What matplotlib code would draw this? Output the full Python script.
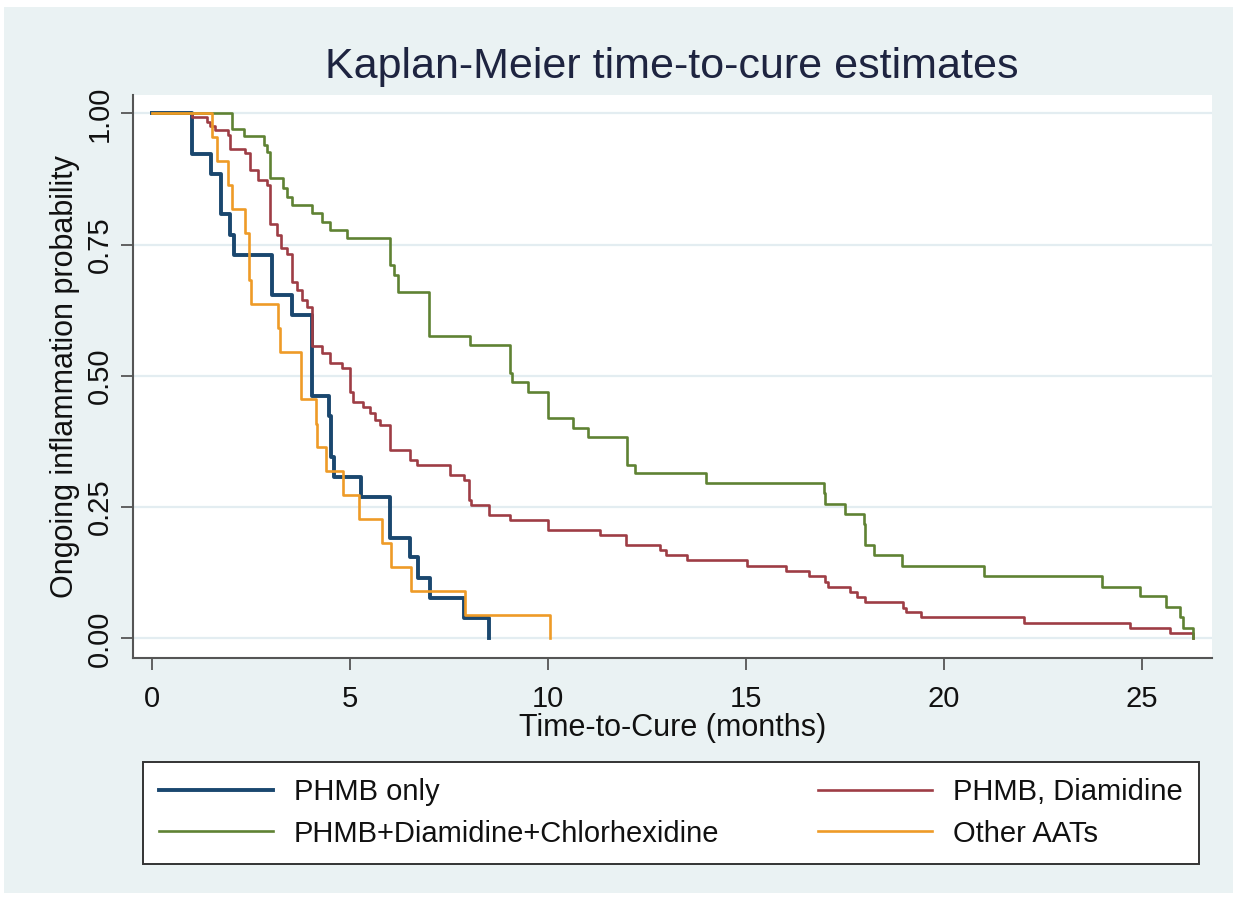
import matplotlib
matplotlib.use("Agg")
import matplotlib.pyplot as plt
from matplotlib.patches import Rectangle

plt.rcParams['font.family'] = ['Liberation Sans', 'DejaVu Sans']

# ---- data (step times in months, survival after each step) ----
phmb_only_t = [1.0, 1.5, 1.73, 1.98, 2.08, 3.03, 3.53, 4.03, 4.47, 4.53, 4.6,
               5.28, 6.0, 6.52, 6.73, 7.03, 7.87, 8.52]
phmb_only_s = [0.923, 0.885, 0.808, 0.769, 0.731, 0.654, 0.615, 0.462, 0.423,
               0.346, 0.308, 0.269, 0.192, 0.154, 0.115, 0.077, 0.038, 0.0]

phmb_dia_t = [1.0, 1.38, 1.47, 1.59, 1.93, 1.97, 2.35, 2.47, 2.68, 2.90, 2.98,
              3.15, 3.27, 3.40, 3.53, 3.66, 3.78, 3.91, 4.03, 4.29, 4.50, 4.80,
              5.0, 5.08, 5.34, 5.51, 5.63, 5.76, 6.02, 6.51, 6.70, 7.52, 7.87,
              8.0, 8.05, 8.52, 9.04, 10.0, 11.31, 11.98, 12.82, 12.99, 13.5,
              15.02, 16.0, 16.58, 17.0, 17.08, 17.63, 17.8, 18.0, 18.97, 19.05,
              19.43, 22.01, 24.7, 25.7, 26.3]
phmb_dia_s = [0.994, 0.984, 0.975, 0.968, 0.958, 0.933, 0.924, 0.892, 0.873,
              0.863, 0.790, 0.768, 0.743, 0.733, 0.679, 0.663, 0.644, 0.632,
              0.556, 0.543, 0.524, 0.514, 0.470, 0.451, 0.441, 0.430, 0.416,
              0.406, 0.359, 0.340, 0.331, 0.311, 0.302, 0.263, 0.254, 0.235,
              0.225, 0.206, 0.197, 0.178, 0.168, 0.159, 0.149, 0.138, 0.128,
              0.119, 0.108, 0.098, 0.089, 0.079, 0.070, 0.057, 0.051, 0.041,
              0.030, 0.019, 0.0095, 0.0]

triple_t = [2.02, 2.32, 2.82, 2.9, 2.98, 3.32, 3.4, 3.53, 4.03, 4.29, 4.5, 4.92,
            6.0, 6.1, 6.22, 7.0, 8.02, 9.03, 9.1, 9.5, 10.0, 10.64, 11.02, 12.0,
            12.2, 14.0, 16.97, 17.0, 17.5, 17.97, 18.0, 18.24, 18.93, 21.0, 24.0,
            24.95, 25.6, 25.97, 26.05, 26.3]
triple_s = [0.971, 0.956, 0.940, 0.927, 0.876, 0.857, 0.841, 0.825, 0.810,
            0.794, 0.778, 0.762, 0.711, 0.692, 0.660, 0.575, 0.559, 0.505,
            0.489, 0.470, 0.419, 0.400, 0.384, 0.331, 0.314, 0.295, 0.276,
            0.255, 0.236, 0.217, 0.178, 0.159, 0.138, 0.119, 0.098, 0.081,
            0.060, 0.041, 0.020, 0.0]

other_t = [1.51, 1.63, 1.91, 2.02, 2.36, 2.46, 2.5, 3.17, 3.22, 3.76, 4.14,
           4.17, 4.40, 4.82, 5.24, 5.81, 6.03, 6.55, 7.91, 10.05]
other_s = [0.955, 0.909, 0.864, 0.818, 0.773, 0.682, 0.636, 0.591, 0.545,
           0.455, 0.409, 0.364, 0.318, 0.273, 0.227, 0.182, 0.136, 0.091,
           0.045, 0.0]

labels = ["PHMB only", "PHMB, Diamidine", "PHMB+Diamidine+Chlorhexidine", "Other AATs"]
colors = ["#1A476F", "#9E3D45", "#5F8233", "#EE9B27"]
widths = [2.8, 1.9, 1.9, 1.9]
x_ticks = [0, 5, 10, 15, 20, 25]
y_ticks = [0.0, 0.25, 0.5, 0.75, 1.0]

W, H = 1237, 899
fig = plt.figure(figsize=(W / 100, H / 100), dpi=100, facecolor="white")
fig.patches.append(Rectangle((4 / W, 6 / H), (W - 8) / W, (H - 13) / H,
                             transform=fig.transFigure, facecolor="#EAF2F3",
                             edgecolor="none", zorder=-10))

ax = fig.add_axes([133 / W, 1 - 658 / H, (1212 - 133) / W, (658 - 95) / H])
ax.set_facecolor("white")

series = [(phmb_only_t, phmb_only_s), (phmb_dia_t, phmb_dia_s),
          (triple_t, triple_s), (other_t, other_s)]
lines = []
for (t, s), lab, c, lw in zip(series, labels, colors, widths):
    ln, = ax.step([0.0] + t, [1.0] + s, where="post", color=c, lw=lw, label=lab,
                  zorder=3)
    lines.append(ln)

ax.set_xlim(-0.48, 26.77)
ax.set_ylim(-0.0375, 1.035)
ax.set_xticks(x_ticks)
ax.set_yticks(y_ticks)
ax.set_yticklabels([f"{v:.2f}" for v in y_ticks])
ax.yaxis.grid(True, color="#E3EDF1", lw=1.6, zorder=0)
ax.set_axisbelow(True)

for side in ["top", "right"]:
    ax.spines[side].set_visible(False)
for side in ["left", "bottom"]:
    ax.spines[side].set_color("#555555")
    ax.spines[side].set_linewidth(1.5)

ax.tick_params(axis="both", direction="out", length=8.5, width=1.3,
               color="#555555", labelsize=21, labelcolor="#111111")
ax.tick_params(axis="x", pad=11)
ax.tick_params(axis="y", pad=5)
for lab in ax.get_yticklabels():
    lab.set_rotation(90)
    lab.set_va("center")
    lab.set_ha("right")

ax.set_xlabel("Time-to-Cure (months)", fontsize=22, color="#111111")
ax.xaxis.set_label_coords(0.5, (658 - 728) / (658 - 95))
ax.xaxis.label.set_va("center")
ax.set_ylabel("Ongoing inflammation probability", fontsize=22, color="#111111")
ax.yaxis.set_label_coords((65 - 133) / (1212 - 133), 0.5)
ax.yaxis.label.set_va("center")

fig.text(671.5 / W, 1 - 78.3 / H, "Kaplan-Meier time-to-cure estimates",
         ha="center", va="baseline", fontsize=31, color="#1E2440")

order = [0, 2, 1, 3]
leg = fig.legend([lines[i] for i in order], [labels[i] for i in order],
                 ncol=2, mode="expand", loc="center",
                 bbox_to_anchor=(143 / W, 1 - 862 / H, (1199 - 143) / W, 98 / H),
                 fontsize=21, handlelength=3.9, handletextpad=0.72,
                 borderpad=0.55, labelspacing=0.45, borderaxespad=0,
                 fancybox=False, framealpha=1, edgecolor="#333333")
leg.get_frame().set_linewidth(1.4)
for t in leg.get_texts():
    t.set_color("#111111")

fig.savefig("out.png", dpi=100, facecolor=fig.get_facecolor())
